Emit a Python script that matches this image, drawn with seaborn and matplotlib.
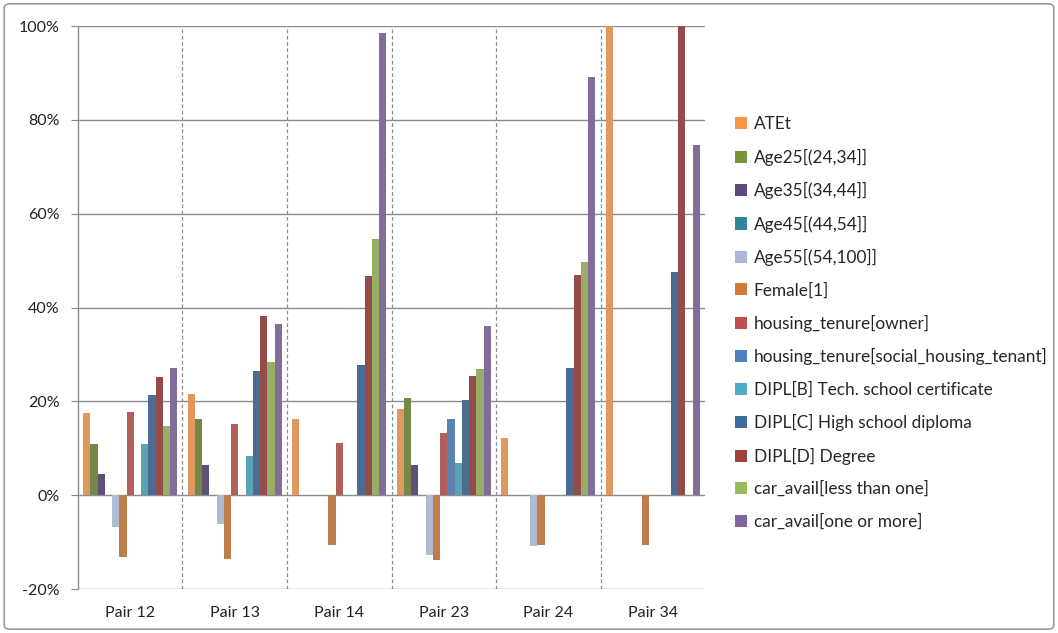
import numpy as np
import pandas as pd
import matplotlib
matplotlib.use('Agg')
import matplotlib.pyplot as plt
import seaborn as sns
from matplotlib.ticker import PercentFormatter
from matplotlib.patches import FancyBboxPatch, Patch

# data (percent values)
pairs = ['Pair 12', 'Pair 13', 'Pair 14', 'Pair 23', 'Pair 24', 'Pair 34']
series = ['ATEt', 'Age25[(24,34]]', 'Age35[(34,44]]', 'Age45[(44,54]]',
          'Age55[(54,100]]', 'Female[1]', 'housing_tenure[owner]',
          'housing_tenure[social_housing_tenant]',
          'DIPL[B] Tech. school certificate', 'DIPL[C] High school diploma',
          'DIPL[D] Degree', 'car_avail[less than one]', 'car_avail[one or more]']
pair12 = [17.6, 11.0, 4.5, 0, -6.7, -13.2, 17.8, 0, 10.9, 21.4, 25.1, 14.8, 27.2]
pair13 = [21.5, 16.3, 6.4, 0, -6.1, -13.7, 15.2, 0, 8.4, 26.5, 38.2, 28.4, 36.4]
pair14 = [16.3, 0, 0, 0, 0, -10.7, 11.1, 0, 0, 27.7, 46.7, 54.5, 98.5]
pair23 = [18.3, 20.7, 6.5, 0, -12.7, -13.8, 13.3, 16.3, 6.9, 20.2, 25.3, 26.8, 36.1]
pair24 = [12.2, 0, 0, 0, -10.9, -10.7, 0, 0, 0, 27.2, 46.9, 49.7, 89.2]
pair34 = [100, 0, 0, 0, 0, -10.7, 0, 0, 0, 47.6, 100, 0, 74.6]

colors = ['#F79646', '#77933C', '#604A7B', '#31859C', '#A9B8D9', '#D07C37',
          '#C0504D', '#4F81BD', '#4BACC6', '#3F6A9C', '#A0413E', '#9BBB59',
          '#8064A2']

rows = []
for p, vals in zip(pairs, [pair12, pair13, pair14, pair23, pair24, pair34]):
    for s, v in zip(series, vals):
        rows.append({'pair': p, 'series': s, 'value': v / 100})
df = pd.DataFrame(rows)

sns.set_style('white')
plt.rcParams['font.family'] = ['Lato', 'DejaVu Sans']
plt.rcParams['axes.unicode_minus'] = False

fig = plt.figure(figsize=(10.58, 6.33), dpi=100)
ax = fig.add_axes([0.0737, 0.0695, 0.5927, 0.8894])

sns.barplot(data=df, x='pair', y='value', hue='series', hue_order=series,
            palette=colors, width=0.9, errorbar=None, linewidth=0,
            legend=False, ax=ax)

ax.set_ylim(-0.2, 1.0)
ax.set_xlim(-0.5, 5.5)
ax.set_yticks(np.arange(-0.2, 1.01, 0.2))
ax.yaxis.set_major_formatter(PercentFormatter(1.0, decimals=0))
ax.set_xlabel('')
ax.set_ylabel('')

# gridlines
ax.grid(axis='y', color='#8C8C8C', linewidth=1.0)
ax.set_xticks(np.arange(0.5, 5.5, 1), minor=True)
ax.grid(axis='x', which='minor', color='#8C8C8C', linestyle=(0, (3, 2)), linewidth=0.9)
ax.set_axisbelow(True)

for side in ['top', 'right', 'bottom']:
    ax.spines[side].set_visible(False)
ax.spines['left'].set_color('#8C8C8C')
ax.spines['left'].set_linewidth(1.0)

ax.tick_params(axis='y', which='major', left=True, length=5, color='#8C8C8C',
               labelsize=11.5, labelcolor='#222222', pad=8)
ax.tick_params(axis='x', which='both', length=0, labelsize=11.5,
               labelcolor='#222222', pad=12)

# legend
handles = [Patch(facecolor=c, edgecolor='none') for c in colors]
fig.legend(handles, series, loc='upper left', bbox_to_anchor=(0.688, 0.827),
           frameon=False, fontsize=12.4, handlelength=0.7, handleheight=0.7,
           handletextpad=0.4, labelspacing=0.95, borderaxespad=0)

# outer frame of the chart
fig.patches.append(FancyBboxPatch((0.004, 0.006), 0.992, 0.988,
                                  boxstyle='round,pad=0,rounding_size=0.006',
                                  transform=fig.transFigure, fill=False,
                                  edgecolor='#9A9A9A', linewidth=1.2))

plt.savefig('out.png', dpi=100)
